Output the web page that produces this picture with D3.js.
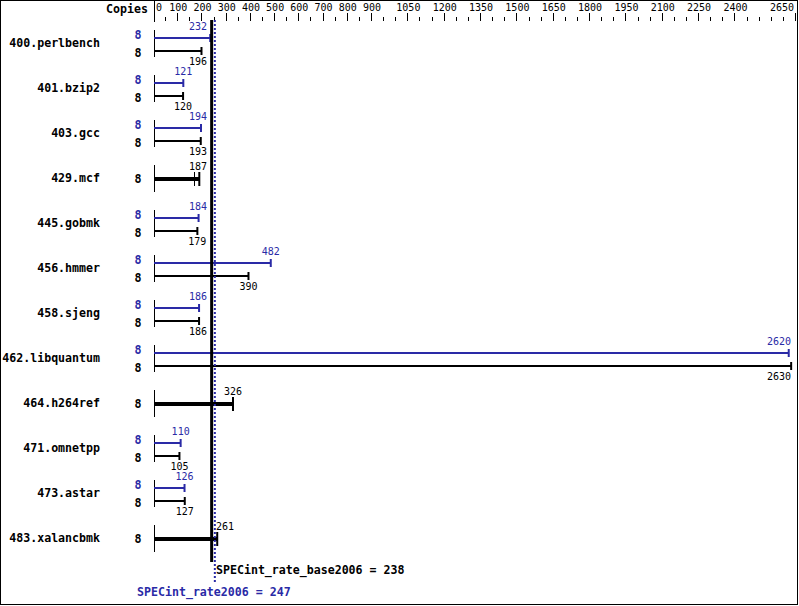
<!DOCTYPE html>
<html><head><meta charset="utf-8">
<script src="https://cdn.jsdelivr.net/npm/d3@7"></script>
<style>body{margin:0;background:#fff}svg{display:block}</style>
</head><body>
<script>
const benchmarks = ["400.perlbench","401.bzip2","403.gcc","429.mcf","445.gobmk","456.hmmer","458.sjeng","462.libquantum","464.h264ref","471.omnetpp","473.astar","483.xalancbmk"];
const baseValues = [196,120,193,187,179,390,186,2630,326,105,127,261];
const peakValues = [232,121,194,null,184,482,186,2620,null,110,126,null];
const baseCopies = [8,8,8,8,8,8,8,8,8,8,8,8];
const peakCopies = [8,8,8,null,8,8,8,8,null,8,8,null];
const extraRuns = [[],[],[],[167],[],[],[],[],[],[],[],[]];
const tickLabels = [0,100,200,300,400,500,600,700,800,900,1050,1200,1350,1500,1650,1800,1950,2100,2250,2400,2650];
const baseMean = 238, peakMean = 247;
const baseMeanLabel = "SPECint_rate_base2006 = 238";
const peakMeanLabel = "SPECint_rate2006 = 247";

const W = 799, H = 606;
const BLUE = "#2a2aa6";
const MONO = "'DejaVu Sans Mono', 'Liberation Mono', monospace";
const svg = d3.select("body").append("svg").attr("width", W).attr("height", H);

svg.append("rect").attr("x",0.5).attr("y",0.5).attr("width",797).attr("height",604)
  .attr("fill","none").attr("stroke","#000");

const x = d3.scaleLinear().domain([0,2650]).range([154,796]);
const y = d3.scalePoint().domain(benchmarks).range([43, 538]);

// axis
svg.append("line").attr("x1",154.5).attr("x2",154.5).attr("y1",0).attr("y2",22).attr("stroke","#000");
const ticks = d3.range(50, 2651, 50);
svg.selectAll(".tk").data(ticks).enter().append("line")
  .attr("x1", d => Math.round(x(d))-0.5).attr("x2", d => Math.round(x(d))-0.5)
  .attr("y1", d => tickLabels.includes(d) ? 13 : 17).attr("y2", 21)
  .attr("stroke","#000");
svg.selectAll(".tl").data(tickLabels).enter().append("text")
  .attr("x", d => {
    const w = String(d).length*6.02;
    let l = x(d) - w/2;
    l = Math.max(156, Math.min(l, 794 - w));
    return l;
  })
  .attr("y", 11).attr("font-family", MONO).attr("font-size", 10).text(d => d);
svg.append("text").attr("x",148).attr("y",13).attr("text-anchor","end")
  .attr("font-family",MONO).attr("font-size",11.6).attr("font-weight","bold").text("Copies");

function valueLabel(v, yb, color) {
  const s = String(v), w = s.length*6.02;
  let l = x(v) - w/2;
  if (l < 216 && l + w > 207) { l = (x(v) < 212.5) ? 207 - w : 216; }
  l = Math.min(l, 791 - w);
  svg.append("text").attr("x", l).attr("y", yb).attr("font-family", MONO)
    .attr("font-size", 10).attr("fill", color).text(s);
}

benchmarks.forEach((b, i) => {
  const c = y(b);
  svg.append("text").attr("x",100).attr("y",c+4).attr("text-anchor","end")
    .attr("font-family",MONO).attr("font-size",11.6).attr("font-weight","bold").text(b);
  svg.append("line").attr("x1",154.5).attr("x2",154.5).attr("y1",c-13).attr("y2",c+14).attr("stroke","#000");
  const bv = baseValues[i], pv = peakValues[i];
  if (pv === null) {
    svg.append("line").attr("x1",x(0)).attr("x2",x(bv)).attr("y1",c+1).attr("y2",c+1)
      .attr("stroke","#000").attr("stroke-width",4);
    svg.append("line").attr("x1",x(bv)).attr("x2",x(bv)).attr("y1",c-6).attr("y2",c+8)
      .attr("stroke","#000").attr("stroke-width",2);
    extraRuns[i].forEach(r => {
      svg.append("line").attr("x1",Math.round(x(r))+0.5).attr("x2",Math.round(x(r))+0.5).attr("y1",c-6).attr("y2",c+8)
        .attr("stroke","#000").attr("stroke-width",1);
    });
    svg.append("text").attr("x",138).attr("y",c+5).attr("text-anchor","middle")
      .attr("font-family",MONO).attr("font-size",11.6).attr("font-weight","bold").text(baseCopies[i]);
    valueLabel(bv, c-8, "#000");
  } else {
    svg.append("line").attr("x1",x(0)).attr("x2",x(pv)).attr("y1",c-5).attr("y2",c-5)
      .attr("stroke",BLUE).attr("stroke-width",2);
    svg.append("line").attr("x1",x(pv)).attr("x2",x(pv)).attr("y1",c-9).attr("y2",c-1)
      .attr("stroke",BLUE).attr("stroke-width",2);
    svg.append("text").attr("x",138).attr("y",c-4).attr("text-anchor","middle").attr("fill",BLUE)
      .attr("font-family",MONO).attr("font-size",11.6).attr("font-weight","bold").text(peakCopies[i]);
    valueLabel(pv, c-13, BLUE);
    svg.append("line").attr("x1",x(0)).attr("x2",x(bv)).attr("y1",c+8).attr("y2",c+8)
      .attr("stroke","#000").attr("stroke-width",2);
    svg.append("line").attr("x1",x(bv)).attr("x2",x(bv)).attr("y1",c+4).attr("y2",c+12)
      .attr("stroke","#000").attr("stroke-width",2);
    svg.append("text").attr("x",138).attr("y",c+14).attr("text-anchor","middle")
      .attr("font-family",MONO).attr("font-size",11.6).attr("font-weight","bold").text(baseCopies[i]);
    valueLabel(bv, c+22, "#000");
  }
});

// mean lines
svg.append("line").attr("x1",x(baseMean)).attr("x2",x(baseMean)).attr("y1",20).attr("y2",562)
  .attr("stroke","#000").attr("stroke-width",3);
svg.append("line").attr("x1",x(peakMean)+1).attr("x2",x(peakMean)+1).attr("y1",20).attr("y2",584)
  .attr("stroke",BLUE).attr("stroke-width",2).attr("stroke-dasharray","2,2");
svg.append("text").attr("x",216).attr("y",574).attr("font-family",MONO).attr("font-size",11.6)
  .attr("font-weight","bold").text(baseMeanLabel);
svg.append("text").attr("x",x(peakMean)).attr("y",596).attr("text-anchor","middle").attr("fill",BLUE)
  .attr("font-family",MONO).attr("font-size",11.6).attr("font-weight","bold").text(peakMeanLabel);
</script>
</body></html>
